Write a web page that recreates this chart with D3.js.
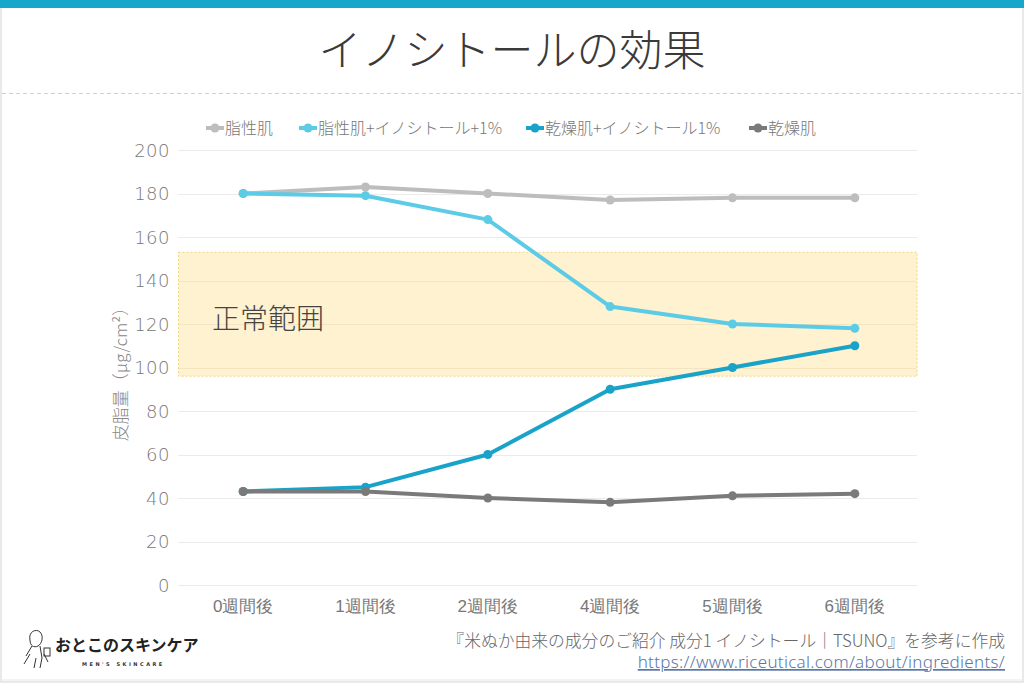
<!DOCTYPE html>
<html><head><meta charset="utf-8">
<script src="https://cdn.jsdelivr.net/npm/d3@7"></script>
<style>
html,body{margin:0;padding:0;background:#fff;}
svg{display:block;font-family:"Noto Sans CJK JP","Noto Sans",sans-serif;}
</style></head><body>
<svg id="c" width="1024" height="683"></svg>
<script>
const categories = ["0週間後","1週間後","2週間後","4週間後","5週間後","6週間後"];
const seriesNames = ["脂性肌","脂性肌+イノシトール+1%","乾燥肌+イノシトール1%","乾燥肌"];
const oily = [180,183,180,177,178,178];
const oilyIno = [180,179,168,128,120,118];
const dryIno = [43,45,60,90,100,110];
const dry = [43,43,40,38,41,42];
const yTicks = [0,20,40,60,80,100,120,140,160,180,200];
const normalRange = [96,153];
const seriesColors = ["#bdbdbd","#5ccbe6","#1aa3c9","#7a7a7a"];

const svg = d3.select("#c");
const W=1024,H=683;
// frame
svg.append("rect").attr("x",1).attr("y",0).attr("width",W-2).attr("height",H-1).attr("fill","#fff").attr("stroke","#e2e2e2").attr("stroke-width",1.5);
svg.append("rect").attr("x",0).attr("y",0).attr("width",W).attr("height",8).attr("fill","#17a7cb");
svg.append("text").attr("x",512).attr("y",66).attr("text-anchor","middle").attr("font-size",43).attr("font-weight",300).attr("fill","#3a3a3a").text("イノシトールの効果");
svg.append("line").attr("x1",2).attr("x2",W-2).attr("y1",93.5).attr("y2",93.5).attr("stroke","#d0d0d0").attr("stroke-dasharray","4,3");

const x = d3.scaleBand().domain(categories).range([182,916]);
const y = d3.scaleLinear().domain([0,200]).range([585,150]);

// grid
svg.append("g").selectAll("line").data(yTicks).join("line")
 .attr("x1",178).attr("x2",917).attr("y1",d=>Math.round(y(d))+0.5).attr("y2",d=>Math.round(y(d))+0.5)
 .attr("stroke","#ebebeb").attr("stroke-width",1);

// normal range
svg.append("rect").attr("x",178.5).attr("width",917-178.5)
 .attr("y",y(normalRange[1])).attr("height",y(normalRange[0])-y(normalRange[1]))
 .attr("fill","#fef2d0").attr("stroke","#e8cb6a").attr("stroke-width",0.8).attr("stroke-dasharray","2,2");
svg.append("g").selectAll("line").data(yTicks.filter(d=>d>normalRange[0]&&d<normalRange[1])).join("line")
 .attr("x1",179).attr("x2",916).attr("y1",d=>Math.round(y(d))+0.5).attr("y2",d=>Math.round(y(d))+0.5)
 .attr("stroke","#f4e4bf").attr("stroke-width",1);
svg.append("text").attr("x",212).attr("y",329).attr("font-size",28).attr("font-weight",300).attr("fill","#444").text("正常範囲");

// y axis
const yAxis = d3.axisLeft(y).tickValues(yTicks).tickSize(0).tickPadding(0);
const ga = svg.append("g").attr("transform","translate(170,0)").call(yAxis);
ga.select(".domain").remove();
ga.selectAll("text").attr("font-size",18).attr("fill","#777").attr("font-weight",200).attr("letter-spacing",0.5).attr("font-family","'DejaVu Sans',sans-serif").attr("dy","0.35em");

// x axis
const xAxis = d3.axisBottom(x).tickSize(0).tickPadding(0);
const gx = svg.append("g").attr("transform","translate(0,597)").call(xAxis);
gx.select(".domain").remove();
gx.selectAll("text").attr("font-size",17).attr("font-weight",300).attr("fill","#777").attr("dy","0.9em");

// y label
svg.append("text").attr("transform","translate(127,370) rotate(-90)").attr("text-anchor","middle")
 .attr("font-size",17).attr("font-weight",300).attr("fill","#888").text("皮脂量（μg/cm²）");

// series
const data = [oily,oilyIno,dryIno,dry];
const line = d3.line().x((d,i)=>x(categories[i])+x.bandwidth()/2).y(d=>y(d));
data.forEach((s,k)=>{
  svg.append("path").attr("d",line(s)).attr("fill","none").attr("stroke",seriesColors[k]).attr("stroke-width",4).attr("stroke-linejoin","round");
  svg.append("g").selectAll("circle").data(s).join("circle")
   .attr("cx",(d,i)=>x(categories[i])+x.bandwidth()/2).attr("cy",d=>y(d)).attr("r",4.5).attr("fill",seriesColors[k]);
});

// legend
const legX = [206,299,526,749];
seriesNames.forEach((n,k)=>{
  const g = svg.append("g").attr("transform",`translate(${legX[k]},128)`);
  g.append("line").attr("x1",0).attr("x2",18).attr("y1",0).attr("y2",0).attr("stroke",seriesColors[k]).attr("stroke-width",4);
  g.append("circle").attr("cx",9).attr("cy",0).attr("r",4.5).attr("fill",seriesColors[k]);
  g.append("text").attr("x",19).attr("y",0).attr("dy","0.36em").attr("font-size",16).attr("font-weight",300).attr("fill","#777").text(n);
});

// footer
svg.append("text").attr("x",1005).attr("y",647).attr("text-anchor","end").attr("font-size",16.8).attr("font-weight",300).attr("fill","#666")
 .text("『米ぬか由来の成分のご紹介 成分1 イノシトール｜TSUNO』を参考に作成");
svg.append("text").attr("x",1005).attr("y",668).attr("text-anchor","end").attr("font-size",17).attr("font-weight",300).attr("letter-spacing",0.3).attr("fill","#5b77a8")
 .attr("font-family","'Noto Sans',sans-serif")
 .attr("text-decoration","underline").text("https://www.riceutical.com/about/ingredients/");

// logo
const lg = svg.append("g").attr("transform","translate(20,628)").attr("fill","none").attr("stroke","#333").attr("stroke-width",1);
lg.append("path").attr("d","M10,12 C8,4 16,0 20,4 C24,8 22,16 18,18 C14,20 10,18 10,12 Z");
lg.append("path").attr("d","M12,18 L6,28 M4,36 L10,26 M20,18 L22,30 M24,26 L28,34 M16,30 L14,40 M22,30 L20,40");
lg.append("rect").attr("x",24).attr("y",20).attr("width",6).attr("height",8);
svg.append("text").attr("x",55).attr("y",651).attr("font-size",16).attr("font-weight",700).attr("fill","#222").text("おとこのスキンケア");
svg.append("text").attr("x",82).attr("y",666).attr("font-size",5).attr("letter-spacing",2.5).attr("font-weight",700).attr("fill","#333").attr("font-family","'DejaVu Sans',sans-serif").text("MEN'S SKINCARE");
svg.append("line").attr("x1",2).attr("x2",W-2).attr("y1",680).attr("y2",680).attr("stroke","#e6e6e6");
</script>
</body></html>
